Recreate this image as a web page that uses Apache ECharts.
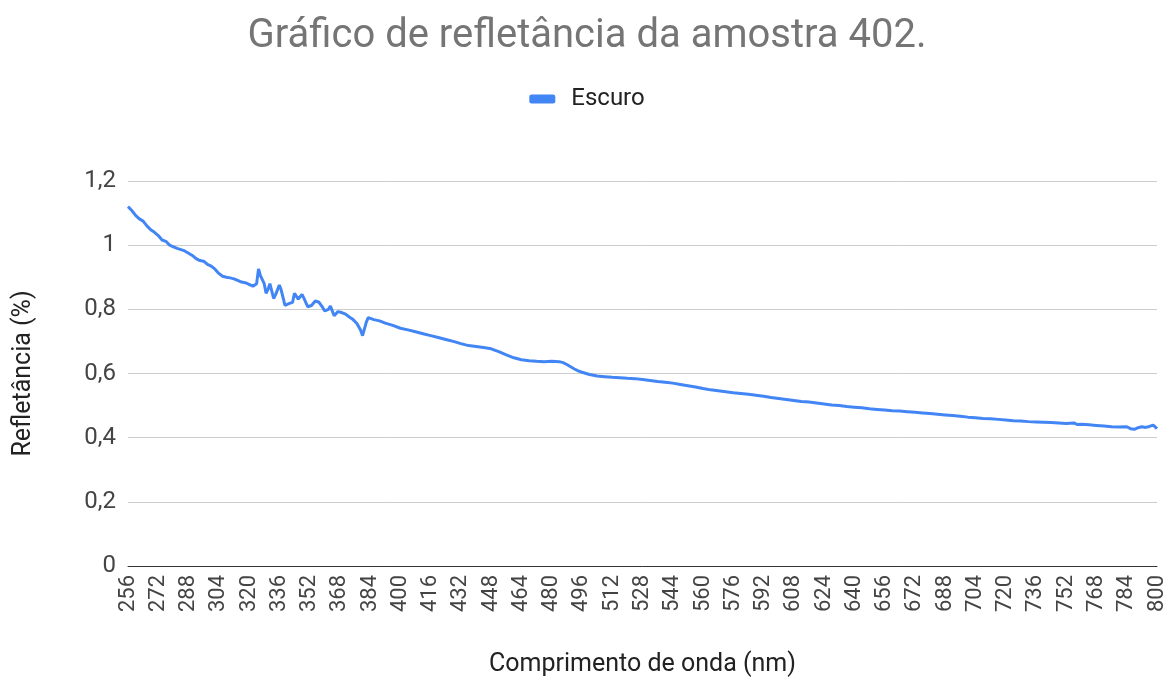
<!DOCTYPE html>
<html>
<head>
<meta charset="utf-8">
<script src="https://cdn.jsdelivr.net/npm/echarts@6/dist/echarts.min.js"></script>
<style>
  html, body { margin: 0; padding: 0; background: #fff; }
  #main { width: 1174px; height: 684px; }
</style>
</head>
<body>
<div id="main"></div>
<script>
// comprimento de onda (nm)
const wavelengths = [
  256, 258, 260, 262, 264, 266, 268, 270, 272, 274, 276, 278, 280, 282, 284, 286, 288, 290,
  292, 294, 296, 298, 300, 302, 304, 306, 308, 310, 312, 314, 316, 318, 320, 322, 324, 325,
  326, 328, 329, 330, 331, 333, 334, 336, 337, 339, 341, 343, 344, 346, 348, 349, 351, 353,
  355, 357, 359, 360, 362, 363, 365, 367, 369, 371, 373, 375, 377, 379, 380, 382, 383, 386,
  389, 392, 396, 400, 404, 408, 412, 416, 420, 424, 428, 432, 436, 440, 444, 448, 452, 456,
  460, 464, 468, 472, 476, 480, 484, 486, 488, 490, 492, 494, 496, 500, 504, 508, 512, 516,
  520, 524, 528, 532, 536, 540, 544, 548, 552, 556, 560, 564, 568, 572, 576, 580, 584, 588,
  592, 596, 600, 604, 608, 612, 616, 620, 624, 628, 632, 636, 640, 644, 648, 652, 656, 660,
  664, 668, 672, 676, 680, 684, 688, 692, 696, 700, 704, 708, 712, 716, 720, 724, 728, 732,
  736, 740, 744, 748, 752, 756, 758, 760, 764, 768, 772, 776, 780, 784, 786, 788, 790, 792,
  794, 796, 798, 800
];

// Escuro
const escuro = [
  1.120, 1.108, 1.093, 1.082, 1.075, 1.060, 1.048, 1.040, 1.030, 1.016, 1.012, 1.000, 0.995, 0.990, 0.986, 0.982, 0.975, 0.968,
  0.958, 0.952, 0.950, 0.940, 0.935, 0.925, 0.912, 0.903, 0.900, 0.898, 0.895, 0.890, 0.885, 0.883, 0.878, 0.872, 0.880, 0.926,
  0.905, 0.880, 0.850, 0.862, 0.880, 0.834, 0.845, 0.876, 0.860, 0.812, 0.818, 0.822, 0.850, 0.832, 0.846, 0.835, 0.808, 0.812,
  0.826, 0.822, 0.805, 0.795, 0.800, 0.810, 0.780, 0.793, 0.790, 0.785, 0.776, 0.768, 0.756, 0.735, 0.718, 0.760, 0.774, 0.768,
  0.764, 0.757, 0.750, 0.741, 0.736, 0.730, 0.724, 0.718, 0.712, 0.706, 0.700, 0.693, 0.687, 0.684, 0.681, 0.677, 0.668, 0.658,
  0.649, 0.643, 0.640, 0.638, 0.637, 0.638, 0.637, 0.634, 0.628, 0.621, 0.614, 0.608, 0.604, 0.597, 0.592, 0.590, 0.588, 0.587,
  0.585, 0.584, 0.581, 0.578, 0.575, 0.573, 0.570, 0.566, 0.562, 0.558, 0.553, 0.549, 0.546, 0.543, 0.540, 0.538, 0.535, 0.532,
  0.529, 0.525, 0.522, 0.519, 0.516, 0.513, 0.511, 0.508, 0.505, 0.502, 0.500, 0.497, 0.495, 0.493, 0.490, 0.488, 0.486, 0.484,
  0.483, 0.481, 0.479, 0.477, 0.475, 0.473, 0.471, 0.469, 0.467, 0.464, 0.462, 0.460, 0.459, 0.457, 0.455, 0.453, 0.452, 0.450,
  0.449, 0.448, 0.447, 0.446, 0.444, 0.446, 0.441, 0.442, 0.440, 0.438, 0.436, 0.434, 0.433, 0.434, 0.428, 0.426, 0.431, 0.434,
  0.432, 0.435, 0.439, 0.428
];

const chartDom = document.getElementById('main');
const myChart = echarts.init(chartDom);

const points = wavelengths.map(function (w, i) { return [w, escuro[i]]; });

const option = {
  animation: false,
  backgroundColor: '#ffffff',
  textStyle: { fontFamily: 'Roboto, Arial, sans-serif' },
  title: {
    text: 'Gráfico de refletância da amostra 402.',
    left: 'center',
    top: 12,
    textStyle: { fontSize: 40, fontWeight: 'normal', color: '#757575', fontFamily: 'Roboto, Arial, sans-serif' }
  },
  legend: {
    data: ['Escuro'],
    top: 82,
    left: 'center',
    icon: 'roundRect',
    itemWidth: 26,
    itemHeight: 9,
    itemGap: 10,
    itemStyle: { borderWidth: 0 },
    textStyle: { fontSize: 24, color: '#222222', padding: [0, 0, 0, 11] }
  },
  grid: {
    left: 128,
    right: 17,
    top: 181,
    bottom: 118,
    containLabel: false
  },
  xAxis: {
    type: 'value',
    min: 256,
    max: 800,
    interval: 16,
    name: 'Comprimento de onda (nm)',
    nameLocation: 'middle',
    nameGap: 86,
    nameTextStyle: { fontSize: 25, color: '#222222' },
    axisLine: { show: true, lineStyle: { color: '#333333', width: 1 } },
    axisTick: { show: false },
    splitLine: { show: false },
    axisLabel: { rotate: 90, fontSize: 22, color: '#444444', margin: 9, showMinLabel: true, showMaxLabel: true }
  },
  yAxis: {
    type: 'value',
    min: 0,
    max: 1.2,
    interval: 0.2,
    name: 'Refletância (%)',
    nameLocation: 'middle',
    nameGap: 92,
    nameRotate: 90,
    nameTextStyle: { fontSize: 25, color: '#222222' },
    axisLine: { show: false },
    axisTick: { show: false },
    splitLine: { lineStyle: { color: '#cccccc', width: 1 } },
    axisLabel: {
      fontSize: 24,
      color: '#444444',
      margin: 12,
      formatter: function (v) { return String(+v.toFixed(1)).replace('.', ','); }
    }
  },
  series: [
    {
      name: 'Escuro',
      type: 'line',
      data: points,
      showSymbol: false,
      symbol: 'none',
      itemStyle: { color: '#4285F4' },
      lineStyle: { color: '#4285F4', width: 3 }
    }
  ]
};

myChart.setOption(option);
window.onresize = myChart.resize;
</script>
</body>
</html>
